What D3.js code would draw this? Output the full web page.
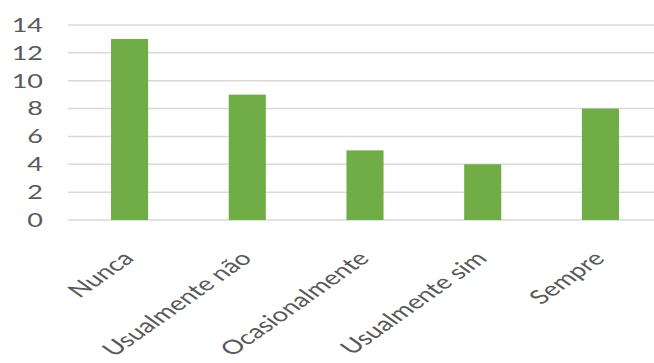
<!DOCTYPE html>
<html>
<head>
<meta charset="utf-8">
<script src="https://cdn.jsdelivr.net/npm/d3@7"></script>
<style>
  html, body { margin: 0; padding: 0; background: #fff; }
  svg { display: block; }
  text { font-family: Lato, "Open Sans", sans-serif; fill: #595959; }
</style>
</head>
<body>
<svg id="chart" width="654" height="363"></svg>
<script>
// Responses per answer option
const categories = ["Nunca", "Usualmente não", "Ocasionalmente", "Usualmente sim", "Sempre"];
const values = [13, 9, 5, 4, 8];
const yTicks = [0, 2, 4, 6, 8, 10, 12, 14];

const plot = { left: 68, right: 660, top: 25, bottom: 220 };
const textStretch = 1.42; // horizontal stretch applied to all text

const svg = d3.select("#chart");

const x = d3.scaleBand()
  .domain(categories)
  .range([71, 659])
  .paddingInner(0.685)
  .paddingOuter(0.34);

const y = d3.scaleLinear()
  .domain([0, 14])
  .range([plot.bottom, plot.top]);

// Horizontal gridlines
svg.append("g")
  .selectAll("line")
  .data(yTicks)
  .join("line")
  .attr("x1", plot.left)
  .attr("x2", plot.right)
  .attr("y1", d => y(d))
  .attr("y2", d => y(d))
  .attr("stroke", "#d9d9d9")
  .attr("stroke-width", 1.5);

// Y tick labels
svg.append("g")
  .selectAll("text")
  .data(yTicks)
  .join("text")
  .attr("transform", d => `translate(43,${y(d)}) scale(${textStretch},1)`)
  .attr("text-anchor", "end")
  .attr("dy", "0.36em")
  .style("font-size", "19px")
  .text(d => d);

// Bars
svg.append("g")
  .selectAll("rect")
  .data(values)
  .join("rect")
  .attr("x", (d, i) => x(categories[i]))
  .attr("width", x.bandwidth())
  .attr("y", d => y(d))
  .attr("height", d => y(0) - y(d))
  .attr("fill", "#70ad47");

// Rotated category labels
svg.append("g")
  .selectAll("text")
  .data(categories)
  .join("text")
  .attr("transform", d => `translate(${x(d) + x.bandwidth() / 2 - 8},${plot.bottom + 30}) scale(${textStretch},1) rotate(-45)`)
  .attr("text-anchor", "end")
  .attr("dy", "0.7em")
  .style("font-size", "19.5px")
  .text(d => d);
</script>
</body>
</html>
